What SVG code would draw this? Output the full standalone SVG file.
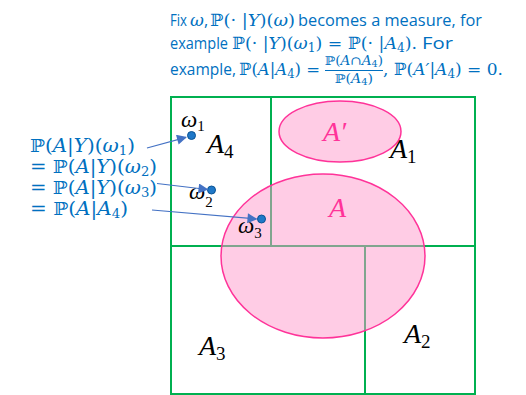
<svg xmlns="http://www.w3.org/2000/svg" width="526" height="395" viewBox="0 0 526 395">
<defs>
<style>
.bx{fill:none;stroke:#00B050;stroke-width:2}
.el{fill:#FF99CC;fill-opacity:0.5;stroke:#FF3399;stroke-width:1.5}
.dot{fill:#1F78C8;stroke:#0B5394;stroke-width:1}
.arr{fill:none;stroke:#4472C4;stroke-width:1.2;marker-end:url(#ah)}
.sans{font-family:"Open Sans","Liberation Sans",sans-serif;font-size:16.4px;fill:#0070C0}
.m{font-family:"DejaVu Serif","Liberation Serif",serif;fill:#0070C0}
.i{font-style:italic}
.big{font-family:"Liberation Serif","DejaVu Serif",serif;font-style:italic;font-size:28px;fill:#000}
.pk{fill:#FF3399}
.om{font-family:"Liberation Serif","DejaVu Serif",serif;font-style:italic;font-size:23px;fill:#000}
</style>
<marker id="ah" viewBox="0 0 10 10" refX="9" refY="5" markerWidth="13" markerHeight="10" markerUnits="userSpaceOnUse" orient="auto"><path d="M0,0L10,5L0,10z" fill="#4472C4"/></marker>
</defs>

<g id="regions">
<rect class="bx" x="171" y="97" width="304" height="297"/>
<line class="bx" x1="171" y1="246" x2="475" y2="246"/>
<line class="bx" x1="271" y1="97" x2="271" y2="246"/>
<line class="bx" x1="365" y1="246" x2="365" y2="394"/>
</g>

<g id="setA">
<ellipse class="el" cx="323" cy="256" rx="102" ry="82"/>
<text class="big pk" x="329" y="217">A</text>
</g>
<g id="setAprime">
<ellipse class="el" cx="340" cy="131.5" rx="61" ry="30.5"/>
<text class="big pk" x="323" y="141">A′</text>
</g>

<g id="labelA1"><text class="big" x="390" y="158">A<tspan font-size="19" dy="4.5" font-style="normal">1</tspan></text></g>
<g id="labelA4"><text class="big" x="207" y="153">A<tspan font-size="19" dy="5" font-style="normal">4</tspan></text></g>
<g id="labelA3"><text class="big" x="199" y="355">A<tspan font-size="19" dy="5" font-style="normal">3</tspan></text></g>
<g id="labelA2"><text class="big" x="404" y="343">A<tspan font-size="19" dy="4.5" font-style="normal">2</tspan></text></g>

<g id="omega1">
<circle class="dot" cx="191.5" cy="135.5" r="4"/>
<text class="om" x="181" y="127">ω<tspan font-size="15" dy="4" font-style="normal">1</tspan></text>
</g>
<g id="omega2">
<circle class="dot" cx="211.5" cy="190" r="4"/>
<text class="om" x="189" y="199">ω<tspan font-size="15" dy="8" font-style="normal">2</tspan></text>
</g>
<g id="omega3">
<circle class="dot" cx="261.5" cy="219" r="4"/>
<text class="om" x="238" y="233">ω<tspan font-size="15" dy="5" font-style="normal">3</tspan></text>
</g>

<g id="connectors">
<line class="arr" x1="147" y1="148" x2="186" y2="137.3"/>
<line class="arr" x1="157" y1="183.5" x2="207.5" y2="189.5"/>
<line class="arr" x1="152" y1="210" x2="256.5" y2="219"/>
</g>

<g id="leftText" class="m" font-size="18">
<text x="30" y="152" textLength="105" lengthAdjust="spacingAndGlyphs">ℙ(<tspan class="i">A</tspan>|<tspan class="i">Y</tspan>)(<tspan class="i">ω</tspan><tspan font-size="12" dy="3">1</tspan><tspan dy="-3">)</tspan></text>
<text x="30" y="173" textLength="127" lengthAdjust="spacingAndGlyphs">= ℙ(<tspan class="i">A</tspan>|<tspan class="i">Y</tspan>)(<tspan class="i">ω</tspan><tspan font-size="12" dy="3">2</tspan><tspan dy="-3">)</tspan></text>
<text x="30" y="194" textLength="127" lengthAdjust="spacingAndGlyphs">= ℙ(<tspan class="i">A</tspan>|<tspan class="i">Y</tspan>)(<tspan class="i">ω</tspan><tspan font-size="12" dy="3">3</tspan><tspan dy="-3">)</tspan></text>
<text x="30" y="215" textLength="98" lengthAdjust="spacingAndGlyphs">= ℙ(<tspan class="i">A</tspan>|<tspan class="i">A</tspan><tspan font-size="12" dy="3">4</tspan><tspan dy="-3">)</tspan></text>
</g>

<g id="topText">
<text class="sans" x="170" y="26" textLength="17" lengthAdjust="spacingAndGlyphs">Fix</text>
<text class="m i" font-size="17" x="190" y="26">ω</text>
<text class="sans" x="204" y="26">,</text>
<text class="m" font-size="17" x="210" y="26" textLength="85" lengthAdjust="spacingAndGlyphs">ℙ(· |<tspan class="i">Y</tspan>)(<tspan class="i">ω</tspan>)</text>
<text class="sans" x="298" y="26" textLength="184" lengthAdjust="spacingAndGlyphs">becomes a measure, for</text>

<text class="sans" x="170" y="49" textLength="58" lengthAdjust="spacingAndGlyphs">example</text>
<text class="m" font-size="17" x="232" y="49" textLength="185" lengthAdjust="spacingAndGlyphs">ℙ(· |<tspan class="i">Y</tspan>)(<tspan class="i">ω</tspan><tspan font-size="12" dy="3">1</tspan><tspan dy="-3">) = ℙ(· |</tspan><tspan class="i">A</tspan><tspan font-size="12" dy="3">4</tspan><tspan dy="-3">).</tspan></text>
<text class="sans" x="422" y="49" textLength="31" lengthAdjust="spacingAndGlyphs">For</text>

<text class="sans" x="170" y="75" textLength="66" lengthAdjust="spacingAndGlyphs">example,</text>
<text class="m" font-size="17" x="239" y="75" textLength="81" lengthAdjust="spacingAndGlyphs">ℙ(<tspan class="i">A</tspan>|<tspan class="i">A</tspan><tspan font-size="12" dy="3">4</tspan><tspan dy="-3">) =</tspan></text>
<text class="m" font-size="12" x="325" y="65" textLength="58" lengthAdjust="spacingAndGlyphs">ℙ(<tspan class="i">A</tspan>∩<tspan class="i">A</tspan><tspan font-size="8.5" dy="2">4</tspan><tspan dy="-2">)</tspan></text>
<line x1="325" y1="70.5" x2="383" y2="70.5" stroke="#0070C0" stroke-width="1"/>
<text class="m" font-size="12" x="335" y="83" textLength="38" lengthAdjust="spacingAndGlyphs">ℙ(<tspan class="i">A</tspan><tspan font-size="8.5" dy="2">4</tspan><tspan dy="-2">)</tspan></text>
<text class="m" font-size="17" x="383" y="75" textLength="120" lengthAdjust="spacingAndGlyphs">, ℙ(<tspan class="i">A′</tspan>|<tspan class="i">A</tspan><tspan font-size="12" dy="3">4</tspan><tspan dy="-3">) = 0.</tspan></text>
</g>
</svg>
